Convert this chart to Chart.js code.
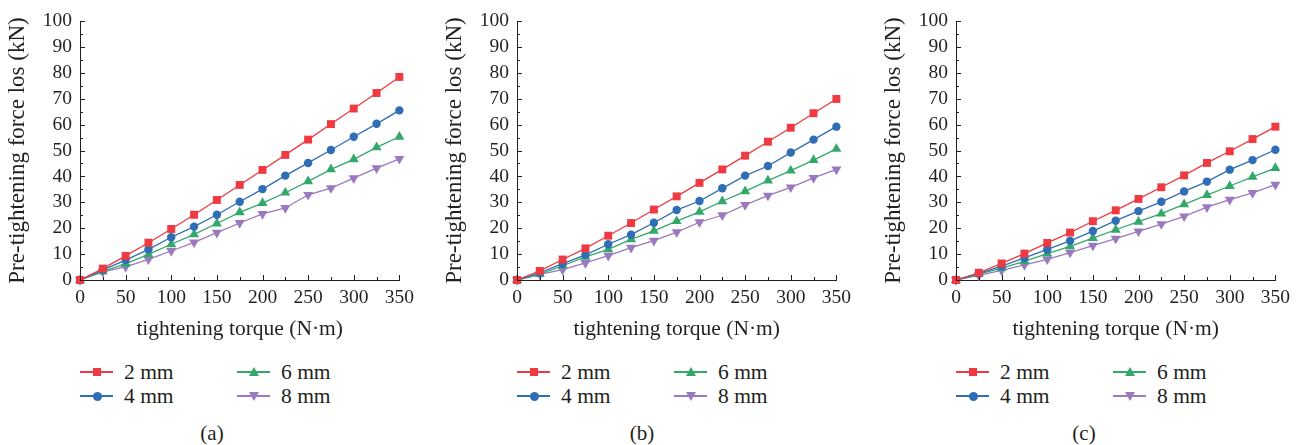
<!DOCTYPE html>
<html>
<head>
<meta charset="utf-8">
<script src="https://cdn.jsdelivr.net/npm/chart.js@4.4.1/dist/chart.umd.min.js"></script>
<style>
  body { margin: 0; background: #fff; }
  #wrap {
    position: relative; width: 1308px; height: 445px; overflow: hidden;
    font-family: "Liberation Serif", "DejaVu Serif", serif; color: #231f20;
  }
  canvas { position: absolute; top: 0; }
  .leg { position: absolute; height: 24px; font-size: 21.5px; line-height: 24px; white-space: nowrap; }
  .leg .ln { position: absolute; left: 0; top: 11px; width: 33px; height: 1.5px; }
  .leg .mk { position: absolute; }
  .leg .tx { position: absolute; left: 44px; top: 0; }
  .cap { position: absolute; top: 421px; width: 60px; margin-left: -30px; text-align: center; font-size: 21px; line-height: 24px; }
</style>
</head>
<body>
<div id="wrap">
  <canvas id="chartA"></canvas>
  <canvas id="chartB"></canvas>
  <canvas id="chartC"></canvas>
</div>
<script>
// tightening torque (N·m)
const torque = [0, 25, 50, 75, 100, 125, 150, 175, 200, 225, 250, 275, 300, 325, 350];
const gapLabels = ['2 mm', '4 mm', '6 mm', '8 mm'];
const panelLabels = ['(a)', '(b)', '(c)'];

// pre-tightening force loss (kN), panel (a)
const lossA2 = [0, 4.4, 9.3, 14.4, 19.7, 25.2, 30.9, 36.7, 42.5, 48.3, 54.2, 60.2, 66.2, 72.2, 78.4];
const lossA4 = [0, 3.9, 7.7, 11.8, 16.5, 20.6, 25.2, 30.2, 35.1, 40.3, 45.2, 50.2, 55.3, 60.3, 65.5];
const lossA6 = [0, 3.3, 6.2, 9.9, 13.8, 17.6, 21.8, 26.1, 29.7, 33.7, 38.1, 42.7, 46.6, 51.2, 55.3];
const lossA8 = [0, 3.1, 5.1, 8.0, 11.2, 14.5, 18.3, 22.0, 25.5, 27.8, 32.9, 35.5, 39.3, 43.2, 46.8];

// panel (b)
const lossB2 = [0, 3.5, 7.9, 12.2, 17.1, 22.0, 27.2, 32.3, 37.5, 42.7, 48.0, 53.4, 58.8, 64.4, 69.9];
const lossB4 = [0, 2.8, 6.3, 9.7, 13.8, 17.5, 22.1, 27.0, 30.5, 35.4, 40.3, 44.0, 49.2, 54.2, 59.2];
const lossB6 = [0, 2.3, 5.5, 8.9, 11.8, 15.7, 19.0, 22.7, 26.3, 30.4, 34.2, 38.4, 42.2, 46.3, 50.6];
const lossB8 = [0, 2.2, 4.0, 6.6, 9.4, 12.5, 15.2, 18.5, 22.3, 25.0, 29.0, 32.6, 35.8, 39.4, 42.7];

// panel (c)
const lossC2 = [0, 2.8, 6.4, 10.2, 14.3, 18.3, 22.7, 26.9, 31.3, 35.8, 40.4, 45.2, 49.7, 54.4, 59.2];
const lossC4 = [0, 2.6, 5.4, 8.5, 11.8, 15.1, 18.9, 22.9, 26.6, 30.2, 34.2, 38.0, 42.6, 46.3, 50.3];
const lossC6 = [0, 2.3, 4.6, 7.2, 10.2, 13.0, 16.2, 19.4, 22.5, 25.6, 29.2, 32.8, 36.3, 39.8, 43.2];
const lossC8 = [0, 1.8, 3.7, 5.8, 8.0, 10.6, 13.3, 16.0, 18.8, 21.6, 24.6, 28.1, 31.0, 33.6, 36.8];

const INK = '#231f20';
const FONT = '"Liberation Serif", "DejaVu Serif", serif';
const styles = [
  { color: '#ee3a40', point: 'rect',     radius: 5.6, rotation: 0 },
  { color: '#2f6db4', point: 'circle',   radius: 4.2, rotation: 0 },
  { color: '#34a86b', point: 'triangle', radius: 5.8, rotation: 0 },
  { color: '#9b79bf', point: 'triangle', radius: 5.8, rotation: 180 }
];

// tick marks pointing into the plot: majors carry labels, minors sit halfway
const innerTicks = {
  id: 'innerTicks',
  afterDraw(chart) {
    const { ctx, chartArea: a, scales: { x, y } } = chart;
    ctx.save();
    ctx.strokeStyle = INK;
    ctx.lineWidth = 1;
    ctx.beginPath();
    for (let v = y.min; v <= y.max; v += 5) {
      const py = Math.round(y.getPixelForValue(v)) + 0.5;
      const len = v % 10 === 0 ? 5 : 3;
      ctx.moveTo(a.left, py);
      ctx.lineTo(a.left + len, py);
    }
    for (let v = x.min; v <= x.max; v += 25) {
      const px = Math.round(x.getPixelForValue(v)) + 0.5;
      const len = v % 50 === 0 ? 5 : 3;
      ctx.moveTo(px, a.bottom);
      ctx.lineTo(px, a.bottom - len);
    }
    ctx.stroke();
    ctx.restore();
  }
};

function makePanel(id, series, left, axis, right) {
  const W = 420, H = 342;
  const canvas = document.getElementById(id);
  canvas.width = W; canvas.height = H;
  canvas.style.left = left + 'px';
  canvas.style.width = W + 'px'; canvas.style.height = H + 'px';

  const datasets = series.map((vals, i) => ({
    label: gapLabels[i],
    data: torque.map((t, k) => ({ x: t, y: vals[k] })),
    borderColor: styles[i].color,
    backgroundColor: styles[i].color,
    borderWidth: 1.3,
    pointStyle: styles[i].point,
    pointRadius: styles[i].radius,
    pointRotation: styles[i].rotation,
    pointBorderWidth: 0,
    tension: 0,
    clip: false
  }));

  new Chart(canvas, {
    type: 'line',
    data: { datasets },
    options: {
      responsive: false,
      animation: false,
      devicePixelRatio: 1,
      layout: { padding: { top: 21, right: left + W - right, left: 0, bottom: 0 } },
      plugins: { legend: { display: false }, tooltip: { enabled: false } },
      scales: {
        x: {
          type: 'linear', min: 0, max: 350,
          grid: { display: false, drawTicks: false },
          border: { display: true, color: INK, width: 1 },
          ticks: { stepSize: 50, autoSkip: false, maxRotation: 0, padding: 6, color: INK,
                   font: { family: FONT, size: 19.5 } },
          title: { display: true, text: 'tightening torque (N·m)', color: INK,
                   font: { family: FONT, size: 21.5 }, padding: { top: 0, bottom: 0 } },
          afterFit(s) { s.height = 62; }
        },
        y: {
          min: 0, max: 100,
          grid: { display: false, drawTicks: false },
          border: { display: true, color: INK, width: 1 },
          ticks: { stepSize: 10, autoSkip: false, padding: 8, color: INK,
                   font: { family: FONT, size: 19.5 } },
          title: { display: true, text: 'Pre-tightening force los (kN)', color: INK,
                   font: { family: FONT, size: 23 }, padding: { top: 4, bottom: 0 } },
          afterFit(s) { s.width = axis - left; }
        }
      }
    },
    plugins: [innerTicks]
  });

  // legend: 2 mm / 6 mm on the first row, 4 mm / 8 mm on the second
  const wrap = document.getElementById('wrap');
  const slots = [[0, 0], [0, 1], [1, 0], [1, 1]];
  series.forEach((_, i) => {
    const [col, row] = slots[i];
    const st = styles[i];
    const item = document.createElement('div');
    item.className = 'leg';
    item.style.left = (axis + col * 157) + 'px';
    item.style.top = (360 + row * 24) + 'px';
    let mk;
    if (st.point === 'rect') {
      mk = `<div class="mk" style="left:12.5px;top:8px;width:8px;height:8px;background:${st.color}"></div>`;
    } else if (st.point === 'circle') {
      mk = `<div class="mk" style="left:12.5px;top:7.5px;width:9px;height:9px;border-radius:50%;background:${st.color}"></div>`;
    } else if (st.rotation === 0) {
      mk = `<div class="mk" style="left:11.5px;top:7px;width:0;height:0;border-left:5px solid transparent;border-right:5px solid transparent;border-bottom:9px solid ${st.color}"></div>`;
    } else {
      mk = `<div class="mk" style="left:11.5px;top:8px;width:0;height:0;border-left:5px solid transparent;border-right:5px solid transparent;border-top:9px solid ${st.color}"></div>`;
    }
    item.innerHTML = `<div class="ln" style="background:${st.color}"></div>${mk}<div class="tx">${gapLabels[i]}</div>`;
    wrap.appendChild(item);
  });
}

const panels = [
  { id: 'chartA', series: [lossA2, lossA4, lossA6, lossA8], left: 0,   axis: 80,  right: 402,  capX: 212 },
  { id: 'chartB', series: [lossB2, lossB4, lossB6, lossB8], left: 437, axis: 517, right: 840,  capX: 642 },
  { id: 'chartC', series: [lossC2, lossC4, lossC6, lossC8], left: 876, axis: 956, right: 1278, capX: 1084 }
];

panels.forEach((p, i) => {
  makePanel(p.id, p.series, p.left, p.axis, p.right);
  const cap = document.createElement('div');
  cap.className = 'cap';
  cap.style.left = p.capX + 'px';
  cap.textContent = panelLabels[i];
  document.getElementById('wrap').appendChild(cap);
});
</script>
</body>
</html>
